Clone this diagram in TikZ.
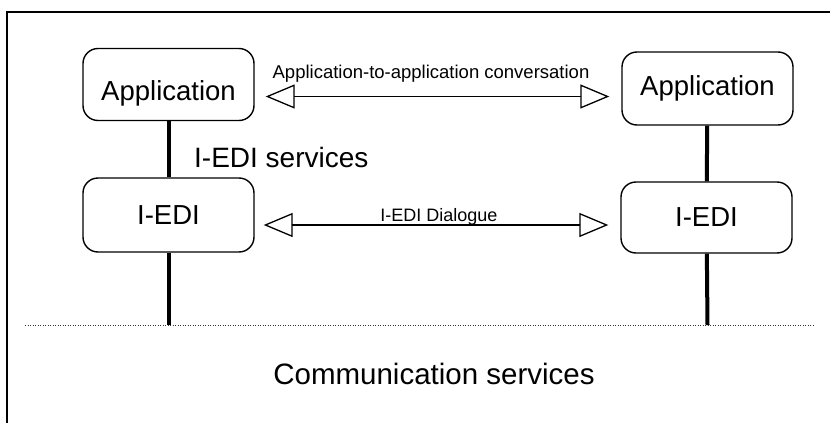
\documentclass[tikz,border=0pt]{standalone}
\usepackage{fontspec}
\setmainfont{Liberation Sans}
\usepackage{tikz}
\usetikzlibrary{
  arrows.meta,   % 空心三角箭头
  positioning    % 节点相对定位
}
\tikzset{
  layer box/.style={
    draw,
    rounded corners=15pt,
    line width=1.4pt,
    minimum width=171pt,
    minimum height=72pt,
    inner sep=0pt,
    font=\fontsize{27.5}{30}\selectfont
  },
  service line/.style={
    line width=4pt
  },
  conv arrow/.style={
    {Triangle[open, length=29pt, width=24pt]}-{Triangle[open, length=29pt, width=24pt]},
    line width=1.3pt
  },
  frame line/.style={
    line width=1.4pt
  },
  layer line/.style={
    dash pattern=on 1pt off 1.5pt,
    line width=1pt,
    gray!40!black
  }
}

\begin{document}
\begin{tikzpicture}[x=1pt, y=-1pt]
  \useasboundingbox (0,0) rectangle (830,423);

  % 外框 (只见左边与上边)
  \draw[frame line] (7,423) -- (7,12) -- (830,12);

  % ======================= 上层: 应用 =======================
  \node[layer box, text height=38pt, text depth=6pt] (appL) at (168.5, 84.5) {Application};
  \node[layer box, minimum height=73pt] (appR) at (707.5, 88.5) {Application};

  % ======================= 中层: I-EDI =======================
  \node[layer box, minimum height=74pt] (ediL) at (168.5, 215) {I-EDI};
  \node[layer box, minimum height=71pt] (ediR) at (706.5, 217.5) {I-EDI};

  % 通信层分界 (虚线)
  \coordinate (dotW) at (25, 325);
  \coordinate (dotE) at (815, 325);
  \coordinate (baseL) at (168.5, 325);
  \coordinate (baseR) at (707.5, 325);
  \draw[layer line] (dotW) -- (dotE);

  % 竖直服务线
  \draw[service line] (appL) -- (ediL);
  \draw[service line] (appR) -- (ediR);
  \draw[service line] (ediL) -- (baseL);
  \draw[service line] (ediR) -- (baseR);

  % 双向对话箭头
  \draw[conv arrow, shorten <=11pt, shorten >=12pt]
    ([yshift=-12pt]appL.east) -- ([yshift=-8pt]appR.west);
  \draw[conv arrow, shorten <=9pt, shorten >=12pt]
    ([yshift=-10pt]ediL.east) -- ([yshift=-7.5pt]ediR.west);

  % 文字标注
  \node[anchor=base, inner sep=0pt, font=\fontsize{18.5}{20}\selectfont] (convText) at (431, 78)
    {Application-to-application conversation};
  \node[anchor=base, inner sep=0pt, font=\fontsize{18}{20}\selectfont] (dialogText) at (439, 221)
    {I-EDI Dialogue};
  \node[anchor=base west, inner sep=0pt, font=\fontsize{28}{30}\selectfont] (srvText) at (194, 167)
    {I-EDI services};
  \node[anchor=base, inner sep=0pt, font=\fontsize{29.5}{32}\selectfont] (commText) at (434, 384)
    {Communication services};
\end{tikzpicture}
\end{document}
